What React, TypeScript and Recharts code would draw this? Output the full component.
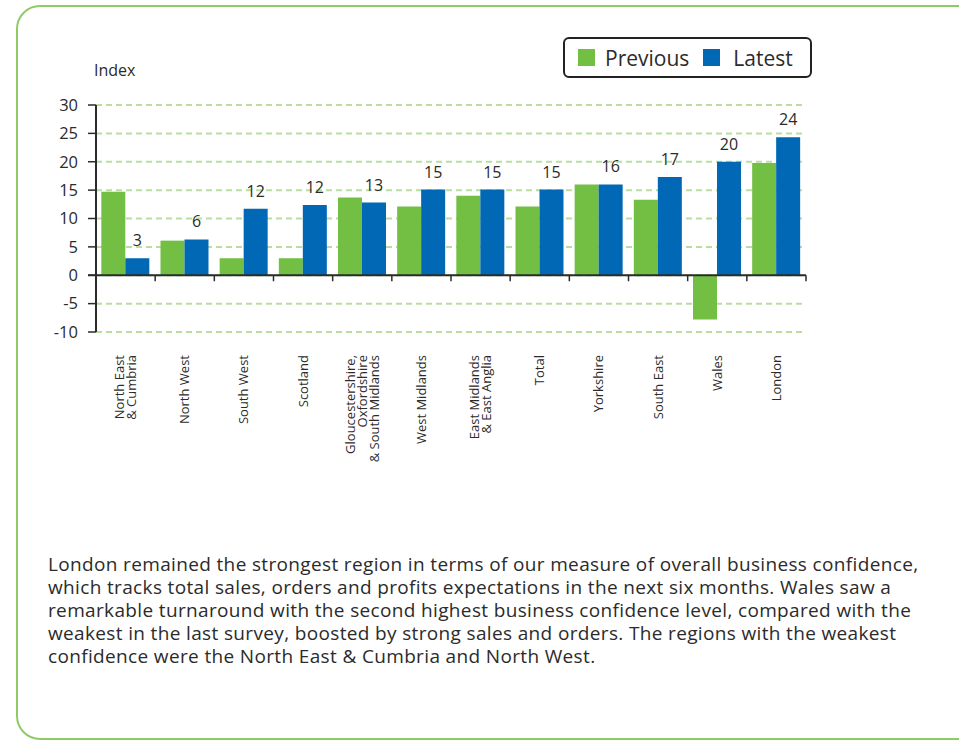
import React from 'react';
import {
  BarChart,
  Bar,
  XAxis,
  YAxis,
  CartesianGrid,
  Legend,
  LabelList,
  ReferenceLine,
} from 'recharts';

// region names, "\n" marks a line break in the rotated label
const regions = [
  'North East\n& Cumbria',
  'North West',
  'South West',
  'Scotland',
  'Gloucestershire,\nOxfordshire\n& South Midlands',
  'West Midlands',
  'East Midlands\n& East Anglia',
  'Total',
  'Yorkshire',
  'South East',
  'Wales',
  'London',
];

const previous = [14.7, 6.1, 3.0, 3.0, 13.7, 12.1, 14.0, 12.1, 16.0, 13.3, -7.8, 19.8];
const latest = [3.0, 6.3, 11.7, 12.4, 12.8, 15.1, 15.1, 15.1, 16.0, 17.3, 20.0, 24.3];
const latestLabels = ['3', '6', '12', '12', '13', '15', '15', '15', '16', '17', '20', '24'];

const yTicks = [-10, -5, 0, 5, 10, 15, 20, 25, 30];

const GREEN = '#72bf44';
const BLUE = '#0068b4';
const INK = '#2b2b2b';
const FONT = '"Open Sans", "DejaVu Sans", sans-serif';

const data = regions.map((name, i) => ({
  name,
  previous: previous[i],
  latest: latest[i],
  label: latestLabels[i],
}));

// rotated multi-line category label
const RegionTick = (props: any) => {
  const { x, y, payload } = props;
  const lines = String(payload.value).split('\n');
  const lineH = 12;
  const first = -((lines.length - 1) / 2) * lineH + 4.5;
  return (
    <text
      transform={`translate(${x},${y + 23}) rotate(-90)`}
      textAnchor="end"
      fontSize={13}
      fill={INK}
      fontFamily={FONT}
    >
      {lines.map((l, i) => (
        <tspan key={i} x={0} y={first + i * lineH}>
          {l}
        </tspan>
      ))}
    </text>
  );
};

// zero line with small marks at the category boundaries
const ZeroAxis = (props: any) => {
  const { x1, y1, x2 } = props;
  const n = regions.length;
  const step = (x2 - x1) / n;
  return (
    <g>
      <line x1={x1 - 8} y1={y1} x2={x2} y2={y1} stroke={INK} strokeWidth={2} />
      {regions.map((_, i) => (
        <line
          key={i}
          x1={x1 + step * (i + 1)}
          x2={x1 + step * (i + 1)}
          y1={y1}
          y2={y1 + 6}
          stroke={INK}
          strokeWidth={1.5}
        />
      ))}
    </g>
  );
};

const LegendBox = () => (
  <div
    style={{
      boxSizing: 'border-box',
      width: 249,
      height: 41,
      border: '2px solid #222',
      borderRadius: 6,
      background: '#fff',
      display: 'flex',
      alignItems: 'center',
      paddingLeft: 13,
      fontFamily: FONT,
      fontSize: 21,
      color: INK,
    }}
  >
    <span style={{ width: 17, height: 17, background: GREEN, display: 'inline-block' }} />
    <span style={{ marginLeft: 10 }}>Previous</span>
    <span style={{ width: 17, height: 17, background: BLUE, display: 'inline-block', marginLeft: 14 }} />
    <span style={{ marginLeft: 13 }}>Latest</span>
  </div>
);

const textLines = [
  'London remained the strongest region in terms of our measure of overall business confidence,',
  'which tracks total sales, orders and profits expectations in the next six months. Wales saw a',
  'remarkable turnaround with the second highest business confidence level, compared with the',
  'weakest in the last survey, boosted by strong sales and orders. The regions with the weakest',
  'confidence were the North East & Cumbria and North West.',
];

export default function App() {
  return (
    <div
      style={{
        position: 'fixed',
        left: 0,
        top: 0,
        width: 959,
        height: 740,
        overflow: 'hidden',
        background: '#fff',
        fontFamily: FONT,
      }}
    >
      {/* rounded card */}
      <div
        style={{
          position: 'absolute',
          left: 16,
          top: 5,
          width: 990,
          height: 735,
          border: '2px solid #8fcb63',
          borderRadius: 24,
          boxSizing: 'border-box',
        }}
      />

      <div style={{ position: 'absolute', left: 94, top: 59, fontSize: 16, color: INK }}>Index</div>

      <div style={{ position: 'absolute', left: 0, top: 0 }}>
        <BarChart
          width={959}
          height={480}
          data={data}
          margin={{ top: 105, right: 153, left: 36, bottom: 8 }}
          barCategoryGap="9%"
          barGap={0}
        >
          <CartesianGrid
            vertical={false}
            stroke="#b9dea0"
            strokeWidth={2}
            strokeDasharray="6 4"
          />
          <XAxis
            dataKey="name"
            interval={0}
            height={140}
            axisLine={false}
            tickLine={false}
            tickSize={0}
            tickMargin={0}
            tick={<RegionTick />}
          />
          <YAxis
            width={60}
            domain={[-10, 30]}
            ticks={yTicks}
            interval={0}
            tickSize={8}
            tickMargin={10}
            axisLine={{ stroke: INK, strokeWidth: 2 }}
            tickLine={{ stroke: INK, strokeWidth: 1.5 }}
            tick={{ fontSize: 16.5, fill: INK, fontFamily: FONT }}
          />
          <Legend
            layout="horizontal"
            verticalAlign="middle"
            wrapperStyle={{ left: 563, top: 37, width: 249, height: 41 }}
            content={() => <LegendBox />}
          />
          <Bar dataKey="previous" name="Previous" fill={GREEN} isAnimationActive={false} />
          <Bar dataKey="latest" name="Latest" fill={BLUE} isAnimationActive={false}>
            <LabelList
              dataKey="label"
              position="top"
              offset={12}
              fontSize={16}
              fill={INK}
              fontFamily={FONT}
            />
          </Bar>
          <ReferenceLine y={0} shape={<ZeroAxis />} />
        </BarChart>
      </div>

      <div
        style={{
          position: 'absolute',
          left: 48,
          top: 553,
          fontSize: 19,
          lineHeight: '23px',
          letterSpacing: 0.35,
          color: INK,
          whiteSpace: 'nowrap',
        }}
      >
        {textLines.map((t, i) => (
          <div key={i}>{t}</div>
        ))}
      </div>
    </div>
  );
}
